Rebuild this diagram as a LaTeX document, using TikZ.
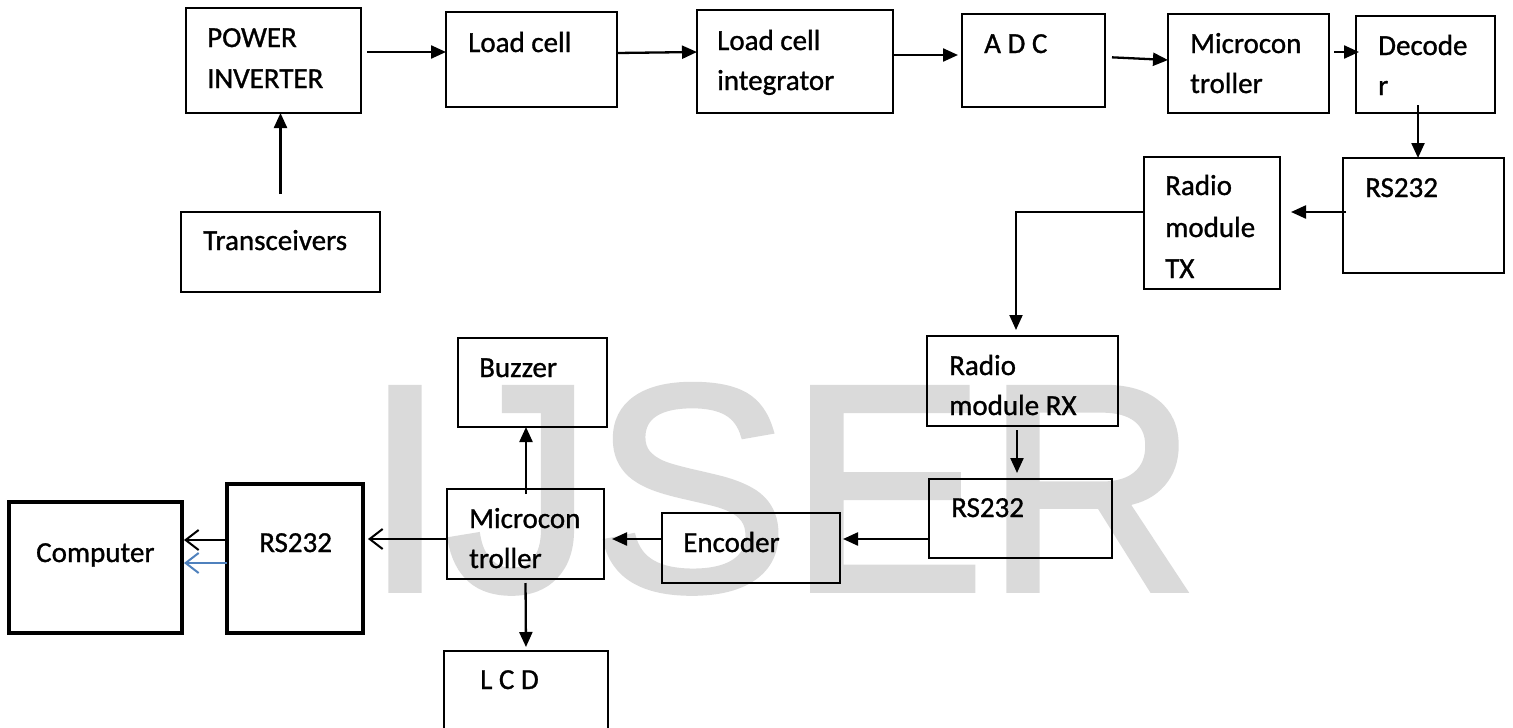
\documentclass[tikz,border=0pt]{standalone}
\usepackage{fontspec}
\setmainfont{Carlito}[FakeBold=1]
\newfontface\wmfont[FakeBold=2]{Liberation Sans}
\usetikzlibrary{arrows.meta,calc}
\definecolor{wordblue}{HTML}{4F81BD}
\definecolor{wmgray}{HTML}{DADADA}
\begin{document}
\begin{tikzpicture}[x=1pt,y=-1pt,
  box/.style={draw, line width=2pt, inner sep=0pt, outer sep=0pt},
  thickbox/.style={draw, line width=4.5pt, inner sep=0pt, outer sep=0pt},
  sz/.style 2 args={minimum width=#1pt, minimum height=#2pt},
  lbl/.style={anchor=base west, inner sep=0pt, font=\fontsize{29}{34}\selectfont},
  arr/.style={line width=2.3pt, -{Triangle[length=15pt,width=13pt]}},
  oarr/.style={line width=2pt, -{Straight Barb[length=13pt,width=20pt,line width=2pt]}},
]
\useasboundingbox (0,0) rectangle (1513,728);
\clip (0,0) rectangle (1513,728);
% watermark
\node[anchor=base west, inner sep=0pt, text=wmgray, font=\wmfont\fontsize{294}{300}\selectfont] (wm) at (364,590) {IJSER};

% boxes
\node[box, sz={175}{105}] (pi)  at (273.5,60.5) {};
\node[box, sz={171}{95}]  (lc)  at (531.5,59.5) {};
\node[box, sz={196}{103}] (lci) at (795,61.5) {};
\node[box, sz={143}{93}]  (adc) at (1033.5,60.5) {};
\node[box, sz={161}{99}]  (mc1) at (1248.5,63.5) {};
\node[box, sz={139}{97}]  (dec) at (1425.5,64.5) {};
\node[box, sz={161}{115}] (rs1) at (1423.5,215.5) {};
\node[box, sz={136}{132}] (tx)  at (1212,223) {};
\node[box, sz={199}{80}]  (trx) at (280.5,252) {};
\node[box, sz={191}{90}]  (rx)  at (1022.5,381) {};
\node[box, sz={183}{79}]  (rs2) at (1020.5,518.5) {};
\node[box, sz={178}{70}]  (enc) at (751,548) {};
\node[box, sz={157}{90}]  (mc2) at (525.5,534) {};
\node[box, sz={149}{89}]  (buz) at (532.5,382.5) {};
\node[box, sz={164}{109}] (lcd) at (526,705.5) {};
\node[thickbox, sz={173}{131}] (comp) at (95.5,567.5) {};
\node[thickbox, sz={136}{149}] (rs3)  at (295,558.5) {};

% labels
\node[lbl] at (207,47) {POWER};
\node[lbl] at (207,88) {INVERTER};
\node[lbl] at (468,52) {Load cell};
\node[lbl] at (203,250) {Transceivers};
\node[lbl] at (717,50) {Load cell};
\node[lbl] at (717,90) {integrator};
\node[lbl] at (984,53) {A D C};
\node[lbl] at (1190,53) {Microcon};
\node[lbl] at (1190,93) {troller};
\node[lbl] at (1378,55) {Decode};
\node[lbl] at (1378,95) {r};
\node[lbl] at (1365,197) {RS232};
\node[lbl] at (1165,195) {Radio};
\node[lbl] at (1165,237) {module};
\node[lbl] at (1165,278) {TX};
\node[lbl] at (949,375) {Radio};
\node[lbl] at (949,415) {module RX};
\node[lbl] at (951,517) {RS232};
\node[lbl] at (683,552) {Encoder};
\node[lbl] at (479,377) {Buzzer};
\node[lbl] at (469,528) {Microcon};
\node[lbl] at (469,568) {troller};
\node[lbl] at (36,562) {Computer};
\node[lbl] at (259,552) {RS232};
\node[lbl] at (480,689) {L C D};

% connectors
\draw[arr, shorten <=18pt] (trx.north) -- (pi.south -| trx.north);
\draw[arr, shorten <=6pt] ([yshift=8.5pt]pi.east) -- ([yshift=7.5pt]lc.west);
\draw[arr] ([yshift=6.5pt]lc.east) -- ([yshift=9.5pt]lci.west);
\draw[arr, shorten >=4pt] ([yshift=6.5pt]lci.east) -- ([yshift=5.5pt]adc.west);
\draw[arr, shorten <=7pt] ([yshift=3.5pt]adc.east) -- ([yshift=3.5pt]mc1.west);
\draw[arr, shorten <=5pt, shorten >=-3pt] ([yshift=11.5pt]mc1.east) -- ([yshift=12.5pt]dec.west);
\draw[arr, shorten <=-8pt] ([xshift=-7.5pt]dec.south) -- ([xshift=-5.5pt]rs1.north);
\draw[arr, shorten <=-3pt, shorten >=11pt] ([yshift=3.5pt]rs1.west) -- ([yshift=11pt]tx.east);
\draw[line width=2pt, -{Triangle[length=15pt,width=13pt]}, shorten >=6pt] ([yshift=11pt]tx.west) -| ([xshift=-6.5pt]rx.north);
\draw[arr, shorten <=4pt, shorten >=6pt] ([xshift=-5.5pt]rx.south) -- ([xshift=-3.5pt]rs2.north);
\draw[arr, shorten >=3pt] ([yshift=-20.5pt]rs2.west) -- ([yshift=9pt]enc.east);
\draw[arr, shorten >=8pt] ([yshift=9pt]enc.west) -- ([yshift=-5pt]mc2.east);
\draw[arr, shorten <=-5pt] ([xshift=0.5pt]mc2.north) -- ([xshift=-6.5pt]buz.south);
\draw[arr, shorten <=4pt, shorten >=4pt] (mc2.south) -- (lcd.north);
\draw[oarr, shorten >=5pt] ([yshift=-5pt]mc2.west) -- ([yshift=19.5pt]rs3.east);
\draw[oarr, shorten >=2pt] ([yshift=18.5pt]rs3.west) -- ([yshift=27.5pt]comp.east);
\draw[oarr, draw=wordblue, shorten >=2pt] ([yshift=-4.5pt]rs3.west) -- ([yshift=4.5pt]comp.east);
\end{tikzpicture}
\end{document}
